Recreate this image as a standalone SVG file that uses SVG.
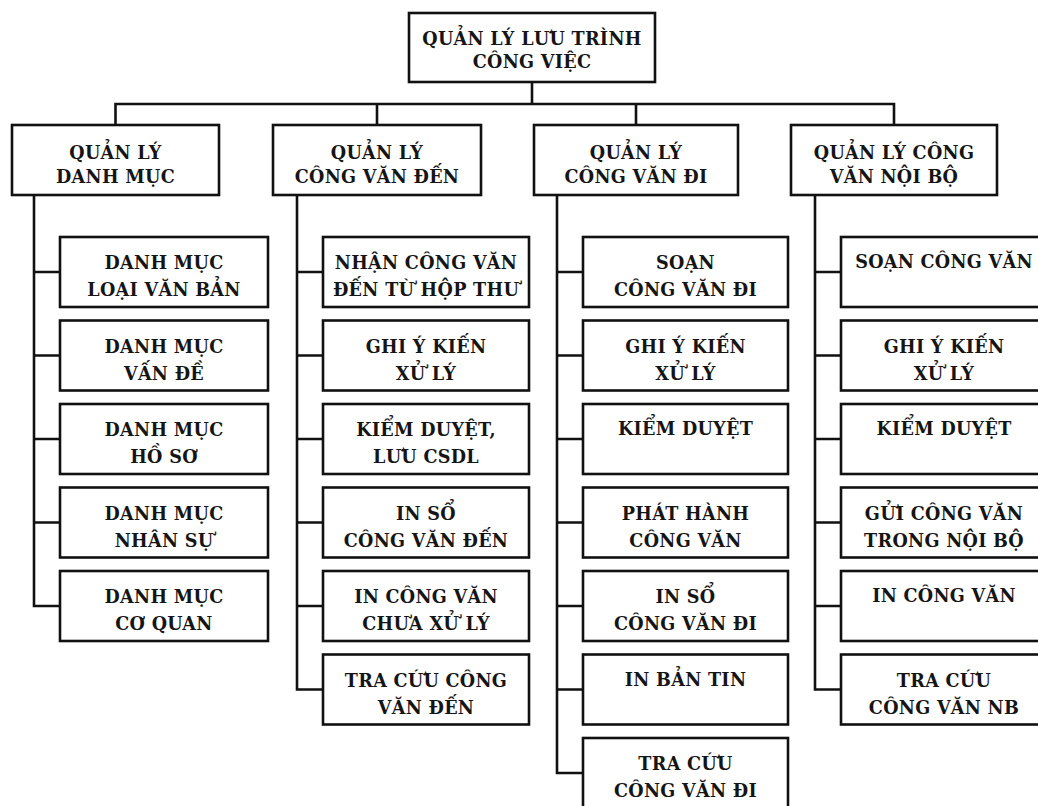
<svg xmlns="http://www.w3.org/2000/svg" width="1038" height="806" viewBox="0 0 1038 806">
<style>
.box{fill:#fff;stroke:#111;stroke-width:2.6}
.ln{fill:none;stroke:#111;stroke-width:2.6;stroke-linecap:square}
text{font-family:"DejaVu Serif","Liberation Serif",serif;font-weight:bold;font-size:17.6px;fill:#151515;text-anchor:middle;letter-spacing:0.3px}
</style>
<rect width="1038" height="806" fill="#fff"/>
<g id="connectors">
<path class="ln" d="M532 82V104M115.5 104H894M115.5 104V125M377 104V125M636 104V125M894 104V125"/>
<path class="ln" d="M34 195V606M34 272H60M34 355.5H60M34 439H60M34 522.5H60M34 606H60"/>
<path class="ln" d="M297 195V689.5M297 272H323M297 355.5H323M297 439H323M297 522.5H323M297 606H323M297 689.5H323"/>
<path class="ln" d="M557 195V773M557 272H583M557 355.5H583M557 439H583M557 522.5H583M557 606H583M557 689.5H583M557 773H583"/>
<path class="ln" d="M815 195V689.5M815 272H841M815 355.5H841M815 439H841M815 522.5H841M815 606H841M815 689.5H841"/>
</g>
<g id="root"><rect class="box" x="409" y="13" width="246" height="69"/><text x="532" y="45">QUẢN LÝ LƯU TRÌNH</text><text x="532" y="68">CÔNG VIỆC</text></g>
<g id="h1"><rect class="box" x="12" y="125" width="207" height="70"/><text x="115.5" y="159">QUẢN LÝ</text><text x="115.5" y="183">DANH MỤC</text></g>
<g id="h2"><rect class="box" x="273" y="125" width="208" height="70"/><text x="377" y="159">QUẢN LÝ</text><text x="377" y="183">CÔNG VĂN ĐẾN</text></g>
<g id="h3"><rect class="box" x="534" y="125" width="204" height="70"/><text x="636" y="159">QUẢN LÝ</text><text x="636" y="183">CÔNG VĂN ĐI</text></g>
<g id="h4"><rect class="box" x="791" y="125" width="206" height="70"/><text x="894" y="159">QUẢN LÝ CÔNG</text><text x="894" y="183">VĂN NỘI BỘ</text></g>

<g id="c1-1"><rect class="box" x="60" y="237" width="208" height="70"/><text x="164" y="269">DANH MỤC</text><text x="164" y="296">LOẠI VĂN BẢN</text></g>
<g id="c1-2"><rect class="box" x="60" y="320.5" width="208" height="70"/><text x="164" y="352.5">DANH MỤC</text><text x="164" y="379.5">VẤN ĐỀ</text></g>
<g id="c1-3"><rect class="box" x="60" y="404" width="208" height="70"/><text x="164" y="436">DANH MỤC</text><text x="164" y="463">HỒ SƠ</text></g>
<g id="c1-4"><rect class="box" x="60" y="487.5" width="208" height="70"/><text x="164" y="519.5">DANH MỤC</text><text x="164" y="546.5">NHÂN SỰ</text></g>
<g id="c1-5"><rect class="box" x="60" y="571" width="208" height="70"/><text x="164" y="603">DANH MỤC</text><text x="164" y="630">CƠ QUAN</text></g>

<g id="c2-1"><rect class="box" x="323" y="237" width="206" height="70"/><text x="426" y="269">NHẬN CÔNG VĂN</text><text x="426" y="296">ĐẾN TỪ HỘP THƯ</text></g>
<g id="c2-2"><rect class="box" x="323" y="320.5" width="206" height="70"/><text x="426" y="352.5">GHI Ý KIẾN</text><text x="426" y="379.5">XỬ LÝ</text></g>
<g id="c2-3"><rect class="box" x="323" y="404" width="206" height="70"/><text x="426" y="436">KIỂM DUYỆT,</text><text x="426" y="463">LƯU CSDL</text></g>
<g id="c2-4"><rect class="box" x="323" y="487.5" width="206" height="70"/><text x="426" y="519.5">IN SỔ</text><text x="426" y="546.5">CÔNG VĂN ĐẾN</text></g>
<g id="c2-5"><rect class="box" x="323" y="571" width="206" height="70"/><text x="426" y="603">IN CÔNG VĂN</text><text x="426" y="630">CHƯA XỬ LÝ</text></g>
<g id="c2-6"><rect class="box" x="323" y="654.5" width="206" height="70"/><text x="426" y="686.5">TRA CỨU CÔNG</text><text x="426" y="713.5">VĂN ĐẾN</text></g>

<g id="c3-1"><rect class="box" x="583" y="237" width="205" height="70"/><text x="685.5" y="269">SOẠN</text><text x="685.5" y="296">CÔNG VĂN ĐI</text></g>
<g id="c3-2"><rect class="box" x="583" y="320.5" width="205" height="70"/><text x="685.5" y="352.5">GHI Ý KIẾN</text><text x="685.5" y="379.5">XỬ LÝ</text></g>
<g id="c3-3"><rect class="box" x="583" y="404" width="205" height="70"/><text x="685.5" y="435">KIỂM DUYỆT</text></g>
<g id="c3-4"><rect class="box" x="583" y="487.5" width="205" height="70"/><text x="685.5" y="519.5">PHÁT HÀNH</text><text x="685.5" y="546.5">CÔNG VĂN</text></g>
<g id="c3-5"><rect class="box" x="583" y="571" width="205" height="70"/><text x="685.5" y="603">IN SỔ</text><text x="685.5" y="630">CÔNG VĂN ĐI</text></g>
<g id="c3-6"><rect class="box" x="583" y="654.5" width="205" height="70"/><text x="685.5" y="685.5">IN BẢN TIN</text></g>
<g id="c3-7"><rect class="box" x="583" y="738" width="205" height="70"/><text x="685.5" y="770">TRA CỨU</text><text x="685.5" y="797">CÔNG VĂN ĐI</text></g>

<g id="c4-1"><rect class="box" x="841" y="237" width="206" height="70"/><text x="944" y="268">SOẠN CÔNG VĂN</text></g>
<g id="c4-2"><rect class="box" x="841" y="320.5" width="206" height="70"/><text x="944" y="352.5">GHI Ý KIẾN</text><text x="944" y="379.5">XỬ LÝ</text></g>
<g id="c4-3"><rect class="box" x="841" y="404" width="206" height="70"/><text x="944" y="435">KIỂM DUYỆT</text></g>
<g id="c4-4"><rect class="box" x="841" y="487.5" width="206" height="70"/><text x="944" y="519.5">GỬI CÔNG VĂN</text><text x="944" y="546.5">TRONG NỘI BỘ</text></g>
<g id="c4-5"><rect class="box" x="841" y="571" width="206" height="70"/><text x="944" y="602">IN CÔNG VĂN</text></g>
<g id="c4-6"><rect class="box" x="841" y="654.5" width="206" height="70"/><text x="944" y="686.5">TRA CỨU</text><text x="944" y="713.5">CÔNG VĂN NB</text></g>
</svg>
